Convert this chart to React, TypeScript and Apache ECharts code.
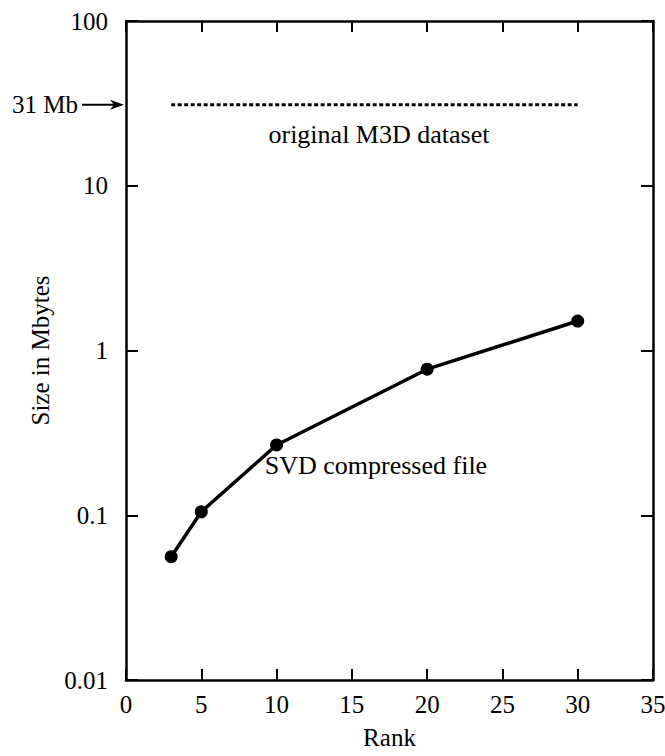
import React, { useEffect, useRef } from "react";
import * as echarts from "echarts";

const ranks = [3, 5, 10, 20, 30];
const sizesMb = [0.056, 0.105, 0.267, 0.77, 1.51];
const originalRange = [3, 30];
const originalSizeMb = 31;
const xTicks = [0, 5, 10, 15, 20, 25, 30, 35];
const yTicks = [0.01, 0.1, 1, 10, 100];

const FONT = "Liberation Serif";

export default function App() {
  const ref = useRef<HTMLDivElement>(null);
  useEffect(() => {
    if (!ref.current) return;
    const chart = echarts.init(ref.current, null, { renderer: "svg" });
    const fmtY = (v: number) => String(Number(v.toPrecision(3)));
    const xBase = {
      type: "value",
      min: xTicks[0],
      max: xTicks[xTicks.length - 1],
      interval: 5,
      splitLine: { show: false },
      axisLine: { show: true, onZero: false, lineStyle: { color: "#000", width: 2.5 } },
      axisTick: { show: true, inside: true, length: 11, lineStyle: { color: "#000", width: 2 } },
    };
    const yBase = {
      type: "log",
      logBase: 10,
      min: yTicks[0],
      max: yTicks[yTicks.length - 1],
      splitLine: { show: false },
      minorTick: { show: false },
      axisLine: { show: true, onZero: false, lineStyle: { color: "#000", width: 2.5 } },
      axisTick: { show: true, inside: true, length: 12, lineStyle: { color: "#000", width: 2 } },
    };
    const option: any = {
      animation: false,
      backgroundColor: "#fff",
      grid: {
        left: 126,
        right: 12,
        top: 21,
        bottom: 76,
        containLabel: false,
        outerBoundsMode: "none",
      },
      xAxis: [
        {
          ...xBase,
          position: "bottom",
          name: "Rank",
          nameLocation: "middle",
          nameGap: 45,
          nameTextStyle: { fontFamily: FONT, fontSize: 25, color: "#000" },
          axisLabel: {
            margin: 12,
            fontFamily: FONT,
            fontSize: 25,
            color: "#000",
            formatter: (v: number) => String(v),
          },
        },
        { ...xBase, position: "top", axisLabel: { show: false } },
      ],
      yAxis: [
        {
          ...yBase,
          position: "left",
          name: "Size in Mbytes",
          nameLocation: "middle",
          nameGap: 70,
          nameTextStyle: { fontFamily: FONT, fontSize: 25, color: "#000" },
          axisLabel: {
            margin: 18,
            fontFamily: FONT,
            fontSize: 25,
            color: "#000",
            formatter: fmtY,
          },
        },
        { ...yBase, position: "right", axisLabel: { show: false } },
      ],
      series: [
        {
          type: "line",
          data: ranks.map((r, i) => [r, sizesMb[i]]),
          symbol: "circle",
          symbolSize: 13,
          itemStyle: { color: "#000" },
          lineStyle: { color: "#000", width: 3.5 },
        },
        {
          type: "line",
          data: originalRange.map((r) => [r, originalSizeMb]),
          symbol: "none",
          lineStyle: { color: "#000", width: 3, type: [4, 2.5] },
        },
      ],
    };
    chart.setOption(option);

    const y31 = chart.convertToPixel({ xAxisIndex: 0, yAxisIndex: 0 }, [0, originalSizeMb])[1];
    const axisX = chart.convertToPixel({ xAxisIndex: 0, yAxisIndex: 0 }, [0, 1])[0];
    const origLbl = chart.convertToPixel({ xAxisIndex: 0, yAxisIndex: 0 }, [16.8, 20.5]);
    const svdLbl = chart.convertToPixel({ xAxisIndex: 0, yAxisIndex: 0 }, [16.6, 0.2]);

    chart.setOption({
      graphic: [
        {
          type: "text",
          x: axisX - 48,
          y: y31,
          style: {
            text: "31 Mb",
            fontFamily: FONT,
            fontSize: 25,
            fill: "#000",
            align: "right",
            verticalAlign: "middle",
          },
        },
        {
          type: "line",
          shape: { x1: axisX - 44, y1: y31, x2: axisX - 10, y2: y31 },
          style: { stroke: "#000", lineWidth: 2 },
        },
        {
          type: "polygon",
          shape: {
            points: [
              [axisX - 2, y31],
              [axisX - 16, y31 - 5],
              [axisX - 12, y31],
              [axisX - 16, y31 + 5],
            ],
          },
          style: { fill: "#000" },
        },
        {
          type: "text",
          x: origLbl[0],
          y: origLbl[1],
          style: {
            text: "original M3D dataset",
            fontFamily: FONT,
            fontSize: 26,
            fill: "#000",
            align: "center",
            verticalAlign: "middle",
          },
        },
        {
          type: "text",
          x: svdLbl[0],
          y: svdLbl[1],
          style: {
            text: "SVD compressed file",
            fontFamily: FONT,
            fontSize: 26,
            fill: "#000",
            align: "center",
            verticalAlign: "middle",
          },
        },
      ],
    });
    return () => chart.dispose();
  }, []);
  return <div ref={ref} style={{ width: 665, height: 756, position: "absolute", left: 0, top: 0 }} />;
}
